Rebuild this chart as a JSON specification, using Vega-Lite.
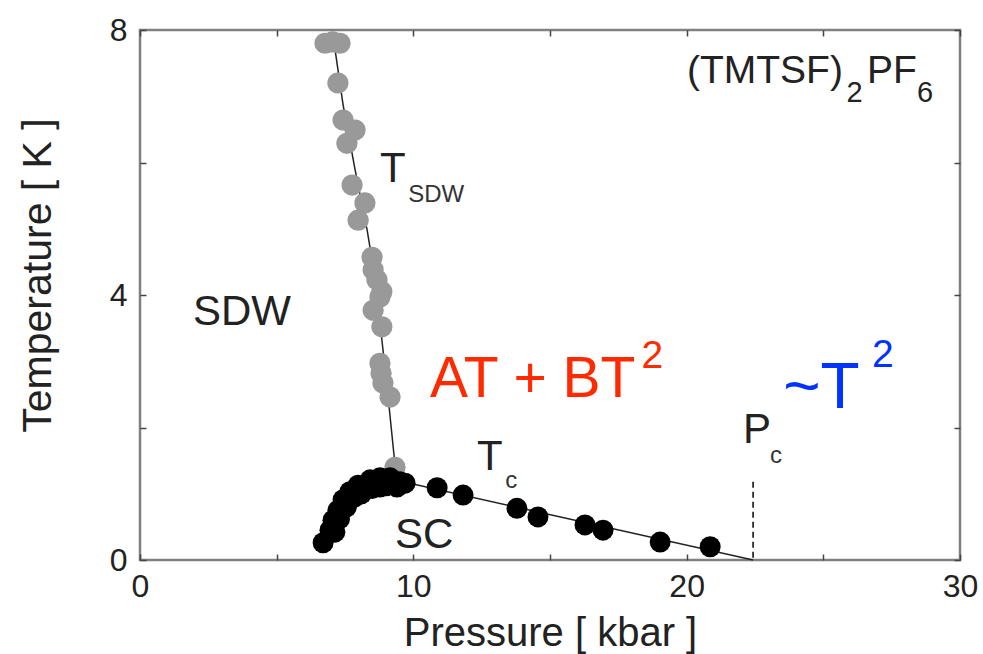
{
  "$schema": "https://vega.github.io/schema/vega-lite/v6.json",
  "width": 820,
  "height": 530,
  "autosize": {"type": "none"},
  "padding": {"left": 140, "top": 30, "right": 23, "bottom": 94},
  "background": "white",
  "config": {
    "font": "Liberation Sans",
    "view": {"stroke": "#808080", "strokeWidth": 2.5},
    "axis": {"grid": false, "domain": false, "tickColor": "#444", "tickWidth": 1.5, "labelColor": "#222", "titleColor": "#222", "titleFontWeight": "normal", "labelFont": "Liberation Sans", "titleFont": "Liberation Sans"}
  },
  "datasets": {
    "sdw": [
      {"P": 6.77, "T": 7.80}, {"P": 7.05, "T": 7.82}, {"P": 7.32, "T": 7.80},
      {"P": 7.24, "T": 7.20}, {"P": 7.43, "T": 6.64}, {"P": 7.87, "T": 6.49},
      {"P": 7.57, "T": 6.29}, {"P": 7.76, "T": 5.66}, {"P": 8.23, "T": 5.39},
      {"P": 7.98, "T": 5.13}, {"P": 8.49, "T": 4.57}, {"P": 8.53, "T": 4.38},
      {"P": 8.67, "T": 4.23}, {"P": 8.85, "T": 4.05}, {"P": 8.78, "T": 3.97},
      {"P": 8.53, "T": 3.77}, {"P": 8.85, "T": 3.52}, {"P": 8.78, "T": 2.97},
      {"P": 8.89, "T": 2.67}, {"P": 8.82, "T": 2.82}, {"P": 9.15, "T": 2.46},
      {"P": 9.33, "T": 1.40}
    ],
    "sc": [
      {"P": 6.7, "T": 0.26}, {"P": 6.95, "T": 0.45}, {"P": 7.13, "T": 0.42},
      {"P": 7.06, "T": 0.60}, {"P": 7.24, "T": 0.75}, {"P": 7.43, "T": 0.91},
      {"P": 7.3, "T": 0.62}, {"P": 7.55, "T": 0.80}, {"P": 7.85, "T": 0.95},
      {"P": 8.1, "T": 1.0}, {"P": 8.5, "T": 1.08}, {"P": 9.0, "T": 1.12}, {"P": 9.4, "T": 1.10},
      {"P": 7.68, "T": 1.03}, {"P": 7.98, "T": 1.13}, {"P": 8.23, "T": 1.06},
      {"P": 8.42, "T": 1.21}, {"P": 8.78, "T": 1.24}, {"P": 8.78, "T": 1.10},
      {"P": 9.15, "T": 1.24}, {"P": 9.51, "T": 1.18}, {"P": 9.70, "T": 1.16},
      {"P": 10.87, "T": 1.09}, {"P": 11.82, "T": 0.98},
      {"P": 13.79, "T": 0.78}, {"P": 14.56, "T": 0.65}, {"P": 16.28, "T": 0.53},
      {"P": 16.94, "T": 0.45}, {"P": 19.03, "T": 0.27}, {"P": 20.86, "T": 0.20}
    ],
    "sdwguide": [
      {"P": 7.06, "T": 7.92}, {"P": 7.43, "T": 6.87}, {"P": 7.87, "T": 5.89},
      {"P": 8.31, "T": 4.98}, {"P": 8.67, "T": 4.08}, {"P": 8.85, "T": 3.32},
      {"P": 9.07, "T": 2.49}, {"P": 9.33, "T": 1.43}
    ],
    "scguide": [
      {"P": 6.7, "T": 0.26}, {"P": 7.13, "T": 0.70}, {"P": 7.68, "T": 1.05},
      {"P": 8.53, "T": 1.2}, {"P": 9.62, "T": 1.18}, {"P": 22.43, "T": 0}
    ],
    "pc": [{"P": 22.43, "T0": 0, "T1": 1.18}],
    "labels": [
      {"P": 1.94, "T": 3.55, "text": "SDW", "g": "big"},
      {"P": 8.78, "T": 5.71, "text": "T", "g": "big"},
      {"P": 12.33, "T": 1.36, "text": "T", "g": "big"},
      {"P": 9.33, "T": 0.18, "text": "SC", "g": "big"},
      {"P": 22.06, "T": 1.77, "text": "P", "g": "big"},
      {"P": 9.81, "T": 5.40, "text": "SDW", "g": "sub"},
      {"P": 13.36, "T": 1.09, "text": "c", "g": "sub"},
      {"P": 23.05, "T": 1.46, "text": "c", "g": "sub"},
      {"P": 20.01, "T": 7.2, "text": "(TMTSF)", "g": "formula"},
      {"P": 26.6, "T": 7.2, "text": "PF", "g": "formula"},
      {"P": 25.85, "T": 6.91, "text": "2", "g": "formulasub"},
      {"P": 28.43, "T": 6.91, "text": "6", "g": "formulasub"},
      {"P": 10.61, "T": 2.46, "text": "AT + BT", "g": "red"},
      {"P": 18.35, "T": 2.90, "text": "2", "g": "redsup"},
      {"P": 23.53, "T": 2.29, "text": "~T", "g": "blue"},
      {"P": 26.78, "T": 2.91, "text": "2", "g": "bluesup"}
    ]
  },
  "resolve": {"axis": {"x": "independent", "y": "independent"}},
  "layer": [
    {
      "data": {"name": "sdwguide"},
      "mark": {"type": "line", "color": "#222", "strokeWidth": 1.5},
      "encoding": {
        "x": {"field": "P", "type": "quantitative", "scale": {"domain": [0, 30], "nice": false, "zero": false},
          "axis": {"orient": "bottom", "values": [0, 5, 10, 15, 20, 25, 30], "labelExpr": "datum.value % 10 === 0 ? datum.label : ''", "tickSize": -6, "labelFontSize": 32, "labelPadding": 17, "labelFlush": false, "title": "Pressure [ kbar ]", "titleFontSize": 40, "titleBaseline": "alphabetic", "titleY": 85}},
        "y": {"field": "T", "type": "quantitative", "scale": {"domain": [0, 8], "nice": false, "zero": false},
          "axis": {"orient": "left", "values": [0, 2, 4, 6, 8], "labelExpr": "datum.value % 4 === 0 ? datum.label : ''", "tickSize": -6, "labelFontSize": 32, "labelPadding": 19, "labelFlush": false, "title": "Temperature [ K ]", "titleFontSize": 41, "titleBaseline": "alphabetic", "titleX": -90, "titleY": 245}},
        "order": {"field": "T", "sort": "descending"}
      }
    },
    {
      "data": {"name": "scguide"},
      "mark": {"type": "line", "color": "#222", "strokeWidth": 1.5},
      "encoding": {
        "x": {"field": "P", "type": "quantitative", "axis": {"orient": "top", "values": [0, 5, 10, 15, 20, 25, 30], "labels": false, "tickSize": -6, "title": null}},
        "y": {"field": "T", "type": "quantitative", "axis": {"orient": "right", "values": [0, 2, 4, 6, 8], "labels": false, "tickSize": -6, "title": null}},
        "order": {"field": "P"}
      }
    },
    {
      "data": {"name": "pc"},
      "mark": {"type": "rule", "color": "#111", "strokeWidth": 1.6, "strokeDash": [6, 4]},
      "encoding": {
        "x": {"field": "P", "type": "quantitative", "axis": null},
        "y": {"field": "T1", "type": "quantitative", "axis": null},
        "y2": {"field": "T0"}
      }
    },
    {
      "data": {"name": "sdw"},
      "mark": {"type": "circle", "color": "#999999", "opacity": 1, "size": 450},
      "encoding": {
        "x": {"field": "P", "type": "quantitative", "axis": null},
        "y": {"field": "T", "type": "quantitative", "axis": null}
      }
    },
    {
      "data": {"name": "sc"},
      "mark": {"type": "circle", "color": "#000000", "opacity": 1, "size": 440},
      "encoding": {
        "x": {"field": "P", "type": "quantitative", "axis": null},
        "y": {"field": "T", "type": "quantitative", "axis": null}
      }
    },
    {
      "data": {"name": "labels"},
      "transform": [{"filter": "datum.g === 'big'"}],
      "mark": {"type": "text", "align": "left", "baseline": "alphabetic", "fontSize": 42, "color": "#222"},
      "encoding": {
        "x": {"field": "P", "type": "quantitative", "axis": null},
        "y": {"field": "T", "type": "quantitative", "axis": null},
        "text": {"field": "text"}
      }
    },
    {
      "data": {"name": "labels"},
      "transform": [{"filter": "datum.g === 'sub'"}],
      "mark": {"type": "text", "align": "left", "baseline": "alphabetic", "fontSize": 24, "color": "#333"},
      "encoding": {
        "x": {"field": "P", "type": "quantitative", "axis": null},
        "y": {"field": "T", "type": "quantitative", "axis": null},
        "text": {"field": "text"}
      }
    },
    {
      "data": {"name": "labels"},
      "transform": [{"filter": "datum.g === 'formula'"}],
      "mark": {"type": "text", "align": "left", "baseline": "alphabetic", "fontSize": 39, "color": "#222"},
      "encoding": {
        "x": {"field": "P", "type": "quantitative", "axis": null},
        "y": {"field": "T", "type": "quantitative", "axis": null},
        "text": {"field": "text"}
      }
    },
    {
      "data": {"name": "labels"},
      "transform": [{"filter": "datum.g === 'formulasub'"}],
      "mark": {"type": "text", "align": "left", "baseline": "alphabetic", "fontSize": 29, "color": "#222"},
      "encoding": {
        "x": {"field": "P", "type": "quantitative", "axis": null},
        "y": {"field": "T", "type": "quantitative", "axis": null},
        "text": {"field": "text"}
      }
    },
    {
      "data": {"name": "labels"},
      "transform": [{"filter": "datum.g === 'red'"}],
      "mark": {"type": "text", "align": "left", "baseline": "alphabetic", "fontSize": 57, "color": "#ff2a00"},
      "encoding": {
        "x": {"field": "P", "type": "quantitative", "axis": null},
        "y": {"field": "T", "type": "quantitative", "axis": null},
        "text": {"field": "text"}
      }
    },
    {
      "data": {"name": "labels"},
      "transform": [{"filter": "datum.g === 'redsup'"}],
      "mark": {"type": "text", "align": "left", "baseline": "alphabetic", "fontSize": 39, "color": "#ff2a00"},
      "encoding": {
        "x": {"field": "P", "type": "quantitative", "axis": null},
        "y": {"field": "T", "type": "quantitative", "axis": null},
        "text": {"field": "text"}
      }
    },
    {
      "data": {"name": "labels"},
      "transform": [{"filter": "datum.g === 'blue'"}],
      "mark": {"type": "text", "align": "left", "baseline": "alphabetic", "fontSize": 64, "color": "#0033ff"},
      "encoding": {
        "x": {"field": "P", "type": "quantitative", "axis": null},
        "y": {"field": "T", "type": "quantitative", "axis": null},
        "text": {"field": "text"}
      }
    },
    {
      "data": {"name": "labels"},
      "transform": [{"filter": "datum.g === 'bluesup'"}],
      "mark": {"type": "text", "align": "left", "baseline": "alphabetic", "fontSize": 39, "color": "#0033ff"},
      "encoding": {
        "x": {"field": "P", "type": "quantitative", "axis": null},
        "y": {"field": "T", "type": "quantitative", "axis": null},
        "text": {"field": "text"}
      }
    }
  ]
}
